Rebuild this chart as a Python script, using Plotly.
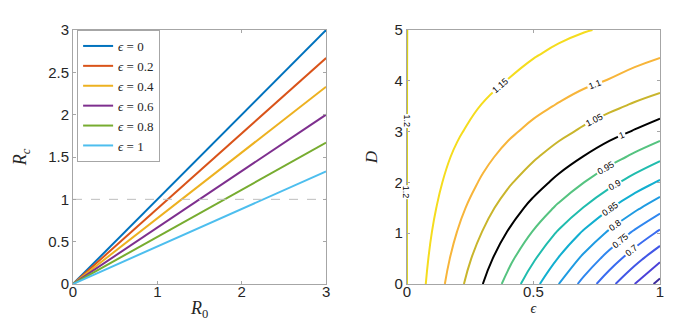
import plotly.graph_objects as go
from plotly.subplots import make_subplots

# left panel: Rc against R0 for several epsilon values
eps_labels = ['0', '0.2', '0.4', '0.6', '0.8', '1']
r0_vals = [0, 3]
rc_vals = [
    [0, 3.0],
    [0, 2.67],
    [0, 2.33],
    [0, 2.0],
    [0, 1.67],
    [0, 1.33],
]
line_colors = ['#0072BD', '#D95319', '#EDB120', '#7E2F8E', '#77AC30', '#4DBEEE']
rc_threshold = 1

# right panel: contour values read on a grid (rows = D, columns = epsilon)
eps_grid = [0, 0.1, 0.2, 0.3, 0.4, 0.5, 0.6, 0.7, 0.8, 0.9, 1.0]
d_grid = [0, 0.5, 1, 1.5, 2, 2.5, 3, 3.5, 4, 4.5, 5]
z_table = [
    [1.2, 1.133, 1.067, 1.000, 0.933, 0.867, 0.800, 0.733, 0.666, 0.600, 0.533],
    [1.2, 1.141, 1.082, 1.023, 0.964, 0.906, 0.847, 0.788, 0.729, 0.670, 0.611],
    [1.2, 1.149, 1.098, 1.047, 0.996, 0.945, 0.893, 0.842, 0.791, 0.740, 0.689],
    [1.2, 1.157, 1.114, 1.070, 1.027, 0.984, 0.941, 0.898, 0.854, 0.811, 0.768],
    [1.2, 1.164, 1.129, 1.093, 1.057, 1.022, 0.986, 0.950, 0.914, 0.879, 0.843],
    [1.2, 1.171, 1.142, 1.113, 1.084, 1.056, 1.027, 0.998, 0.969, 0.940, 0.911],
    [1.2, 1.177, 1.155, 1.132, 1.109, 1.087, 1.064, 1.041, 1.018, 0.996, 0.973],
    [1.2, 1.183, 1.165, 1.148, 1.130, 1.113, 1.096, 1.078, 1.061, 1.043, 1.026],
    [1.2, 1.187, 1.174, 1.162, 1.149, 1.136, 1.123, 1.110, 1.098, 1.085, 1.072],
    [1.2, 1.190, 1.181, 1.171, 1.161, 1.152, 1.142, 1.132, 1.122, 1.113, 1.103],
    [1.2, 1.193, 1.186, 1.180, 1.173, 1.166, 1.159, 1.152, 1.146, 1.139, 1.132],
]
levels = [0.55, 0.6, 0.65, 0.7, 0.75, 0.8, 0.85, 0.9, 0.95, 1.0, 1.05, 1.1, 1.15, 1.2]
level_colors = ['#3c2a9c', '#4a40d8', '#4157e6', '#3a6cf0', '#2f86ef', '#1f9be2', '#12afd0',
                '#20bcae', '#55c380', '#000000', '#c9b52c', '#f7b53a', '#f5dc1e', '#d8d018']
# where the edge level (1.2) is labelled along eps = 0
edge_label_d = [3.2, 1.8]

tick_font = dict(family='Liberation Sans, Arial', size=15, color='#262626')
serif = 'Liberation Serif, Times New Roman, serif'
axis_col = '#a6a6a6'

fig = make_subplots(rows=1, cols=2)

for i, lab in enumerate(eps_labels):
    fig.add_trace(go.Scatter(
        x=r0_vals, y=rc_vals[i], mode='lines',
        line=dict(color=line_colors[i], width=2),
        name='<i>ϵ</i> = ' + lab), row=1, col=1)

fig.add_trace(go.Scatter(
    x=r0_vals, y=[rc_threshold, rc_threshold], mode='lines',
    line=dict(color='#bdbdbd', width=1, dash='dash'),
    showlegend=False), row=1, col=1)

label_font = dict(family='Liberation Sans, Arial', size=9, color='black')

# one trace per level so each line keeps its own colour
for lv, col in zip(levels, level_colors):
    # the top level sits exactly on the eps = 0 edge; nudge it so it is traced
    lv_draw = lv - 0.0001 if lv == levels[-1] else lv
    fig.add_trace(go.Contour(
        x=eps_grid, y=d_grid, z=z_table,
        autocontour=False,
        contours=dict(start=lv_draw, end=lv_draw, size=0.05, coloring='lines',
                      showlabels=True, labelfont=label_font, labelformat='.3~g'),
        colorscale=[[0, col], [1, col]],
        line=dict(width=2, smoothing=1.3),
        showscale=False, showlegend=False, hoverinfo='skip'), row=1, col=2)

for d in edge_label_d:
    fig.add_annotation(x=eps_grid[0], y=d, xref='x2', yref='y2', text='1.2',
                       showarrow=False, textangle=90, bgcolor='white',
                       font=label_font, borderpad=0)

common = dict(showgrid=False, zeroline=False, showline=True, linecolor=axis_col,
              linewidth=1, mirror='ticks', ticks='inside', ticklen=3,
              tickcolor=axis_col, tickfont=tick_font)

fig.update_xaxes(domain=[0, 0.4312], range=[0, 3], tickvals=[0, 1, 2, 3],
                 ticklabelstandoff=-6,
                 title=dict(text='<i>R</i><sub>0</sub>', font=dict(family=serif, size=18, color='#262626'),
                            standoff=2),
                 **common, row=1, col=1)
fig.update_yaxes(range=[0, 3], tickvals=[0, 0.5, 1, 1.5, 2, 2.5, 3],
                 ticktext=['0', '0.5', '1', '1.5', '2', '2.5', '3'],
                 title=dict(text='<i>R<sub>c</sub></i>', font=dict(family=serif, size=18, color='#262626'),
                            standoff=16),
                 **common, row=1, col=1)
fig.update_xaxes(domain=[0.5688, 1], range=[0, 1], tickvals=[0, 0.5, 1],
                 ticklabelstandoff=-6,
                 title=dict(text='<i>ϵ</i>', font=dict(family=serif, size=14, color='#262626'),
                            standoff=4),
                 **common, row=1, col=2)
fig.update_yaxes(range=[0, 5], tickvals=[0, 1, 2, 3, 4, 5],
                 title=dict(text='<i>D</i>', font=dict(family=serif, size=17, color='#262626'),
                            standoff=12),
                 **common, row=1, col=2)

fig.update_layout(
    width=678, height=326,
    margin=dict(l=63, r=26, t=22, b=50),
    plot_bgcolor='white', paper_bgcolor='white',
    legend=dict(x=0.007, y=1.0, xanchor='left', yanchor='top',
                bgcolor='white', bordercolor=axis_col, borderwidth=1,
                font=dict(family=serif, size=13, color='#262626'),
                itemwidth=30, tracegroupgap=0),
)

fig.write_html('out.html')
